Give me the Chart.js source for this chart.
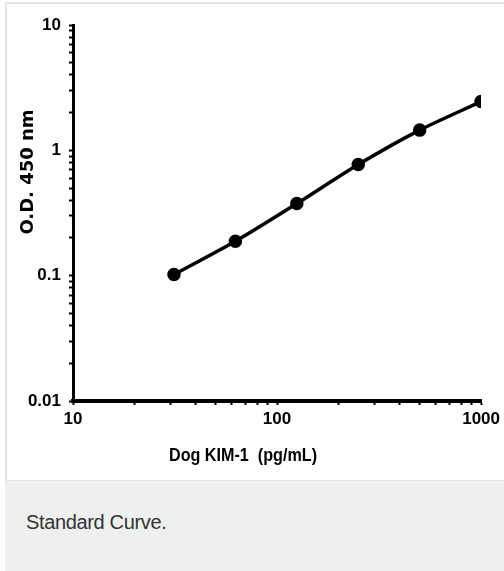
<!DOCTYPE html>
<html>
<head>
<meta charset="utf-8">
<script src="https://cdn.jsdelivr.net/npm/chart.js@4.4.0/dist/chart.umd.min.js"></script>
<style>
  html, body { margin: 0; padding: 0; background: #ffffff; width: 504px; height: 571px; overflow: hidden; }
  #frame { position: absolute; left: 5px; top: 2px; width: 520px; height: 476px; border: 2px solid #e3e3e3; box-sizing: content-box; }
  #wrap { position: absolute; left: 0; top: 0; width: 504px; height: 480px; }
  #caption { position: absolute; left: 5px; top: 481px; width: 520px; height: 90px; background: #eef0ef;
             font-family: "Liberation Sans", Arial, sans-serif; font-size: 20px; color: #333; }
  #caption span { position: absolute; left: 21px; top: 30px; letter-spacing: -0.35px; }
</style>
</head>
<body>
<div id="frame"></div>
<div id="wrap"><canvas id="c"></canvas></div>
<div id="caption"><span>Standard Curve.</span></div>
<script>
// ---- data ----
const concentrations = [31.25, 62.5, 125, 250, 500, 1000];   // Dog KIM-1 (pg/mL)
const odValues = [0.102, 0.188, 0.376, 0.77, 1.45, 2.45];    // O.D. 450 nm
const xMajorTicks = [10, 100, 1000];
const yMajorTicks = [0.01, 0.1, 1, 10];
const xTitle = "Dog KIM-1  (pg/mL)";
const yTitle = "O.D. 450 nm";

function withMinor(majors) {
  const out = [];
  for (let i = 0; i < majors.length; i++) {
    out.push(majors[i]);
    if (i < majors.length - 1) {
      for (let m = 2; m <= 9; m++) out.push(+(majors[i] * m).toPrecision(6));
    }
  }
  return out;
}

const tickFont = { family: '"Liberation Sans Narrow", "Liberation Sans", sans-serif', size: 17, weight: 'bold' };

const titlePlugin = {
  id: 'axisTitles',
  afterDraw(chart) {
    const ctx = chart.ctx;
    ctx.save();
    ctx.fillStyle = '#000';
    ctx.textAlign = 'center';
    ctx.textBaseline = 'middle';
    ctx.font = 'bold 18px "DejaVu Sans", sans-serif';
    ctx.translate(28, 172);
    ctx.rotate(-Math.PI / 2);
    ctx.fillText(chart.options.scales.y.title.text, 0, 0);
    ctx.restore();
    ctx.save();
    ctx.fillStyle = '#000';
    ctx.textAlign = 'center';
    ctx.textBaseline = 'middle';
    ctx.font = 'bold 19px "Liberation Sans Narrow", sans-serif';
    ctx.translate(243, 456);
    ctx.scale(0.85, 1);
    ctx.fillText(chart.options.scales.x.title.text, 0, 0);
    ctx.restore();
  }
};

new Chart(document.getElementById('c'), {
  type: 'line',
  data: {
    datasets: [{
      data: concentrations.map((x, i) => ({ x: x, y: odValues[i] })),
      borderColor: '#000',
      backgroundColor: '#000',
      borderWidth: 3.5,
      pointRadius: 5,
      pointHoverRadius: 5,
      pointBackgroundColor: '#000',
      pointBorderColor: '#000',
      tension: 0.25,
      fill: false
    }]
  },
  options: {
    responsive: true,
    maintainAspectRatio: false,
    animation: false,
    layout: { padding: { left: 0, top: 25, right: 22, bottom: 0 } },
    plugins: { legend: { display: false }, tooltip: { enabled: false } },
    scales: {
      x: {
        type: 'logarithmic',
        min: 10, max: 1000,
        afterBuildTicks: s => { s.ticks = withMinor(xMajorTicks).map(v => ({ value: v, major: xMajorTicks.includes(v) })); },
        afterFit: s => { s.height = 79; },
        border: { display: true, color: '#000', width: 4 },
        grid: { display: true, drawOnChartArea: false, drawTicks: true, tickLength: 4, tickWidth: 2, tickColor: '#000' },
        ticks: {
          autoSkip: false, maxRotation: 0, color: '#000', font: tickFont, padding: 4,
          callback: v => xMajorTicks.includes(v) ? String(v) : ''
        },
        title: { display: false, text: xTitle }
      },
      y: {
        type: 'logarithmic',
        min: 0.01, max: 10,
        afterBuildTicks: s => { s.ticks = withMinor(yMajorTicks).map(v => ({ value: v, major: yMajorTicks.includes(v) })); },
        afterFit: s => { s.width = 73; },
        border: { display: true, color: '#000', width: 3 },
        grid: { display: true, drawOnChartArea: false, drawTicks: true, tickLength: 4, tickWidth: 2, tickColor: '#000' },
        ticks: {
          autoSkip: false, color: '#000', font: tickFont, padding: 8,
          callback: v => yMajorTicks.includes(v) ? String(v) : ''
        },
        title: { display: false, text: yTitle }
      }
    }
  },
  plugins: [titlePlugin]
});
</script>
</body>
</html>
